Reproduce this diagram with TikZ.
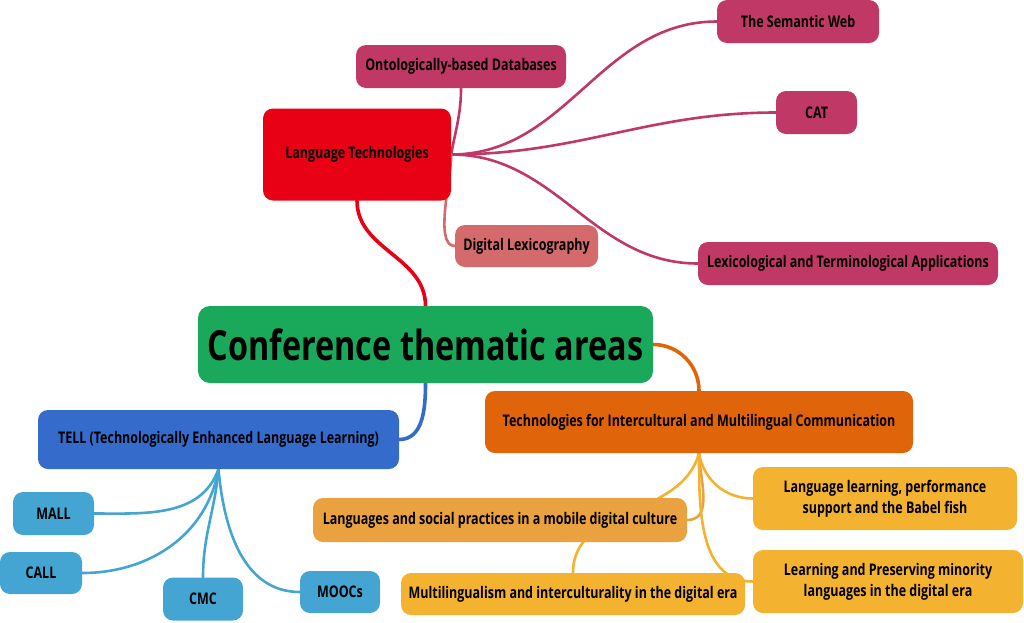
\documentclass[tikz,border=0pt]{standalone}
\usepackage{fontspec}
\setmainfont{Open Sans}[FakeStretch=0.78]
\usetikzlibrary{backgrounds}
\definecolor{trunk}{RGB}{26,168,90}
\definecolor{ltred}{RGB}{232,0,20}
\definecolor{ltleaf}{RGB}{192,56,102}
\definecolor{lexleaf}{RGB}{212,106,108}
\definecolor{tellblue}{RGB}{53,108,204}
\definecolor{tellleaf}{RGB}{69,165,210}
\definecolor{techorange}{RGB}{224,100,10}
\definecolor{langleaf}{RGB}{234,162,64}
\definecolor{techleaf}{RGB}{243,178,48}

\begin{document}
\begin{tikzpicture}[x=1pt,y=-1pt,
    topic/.style={rounded corners=10pt,inner sep=0pt,align=center,
      font=\fontsize{16}{21}\selectfont\bfseries},
    link/.style={line width=3.6pt,line cap=round},
    twig/.style={line width=2.6pt,line cap=round}]
  \useasboundingbox (0,0) rectangle (1024,622);
  % centre and main branches
  \node[topic,fill=trunk,minimum width=455pt,minimum height=77pt,rounded corners=12pt,
    font=\fontsize{41.5}{50}\selectfont\bfseries] (conf) at (425.5,344.5) {Conference thematic areas};
  \node[topic,fill=ltred,minimum width=188pt,minimum height=92pt] (lt) at (357,154.5) {Language Technologies};
  \node[topic,fill=tellblue,minimum width=361pt,minimum height=59pt] (tell) at (218.5,439.5)
    {TELL (Technologically Enhanced Language Learning)};
  \node[topic,fill=techorange,minimum width=428pt,minimum height=62pt] (tech) at (699,422)
    {Technologies for Intercultural and Multilingual Communication};
  % language technologies
  \node[topic,fill=ltleaf,minimum width=210pt,minimum height=43pt] (onto) at (461,66.5) {Ontologically-based Databases};
  \node[topic,fill=ltleaf,minimum width=162pt,minimum height=43pt] (semweb) at (798,21.5) {The Semantic Web};
  \node[topic,fill=ltleaf,minimum width=81pt,minimum height=43pt] (cat) at (816.5,112.5) {CAT};
  \node[topic,fill=ltleaf,minimum width=300pt,minimum height=43pt] (lexapp) at (848,263.5)
    {Lexicological and Terminological Applications};
  \node[topic,fill=lexleaf,minimum width=143pt,minimum height=42pt] (dlex) at (526.5,246) {Digital Lexicography};
  % TELL
  \node[topic,fill=tellleaf,minimum width=81pt,minimum height=43pt] (mall) at (53.5,513.5) {MALL};
  \node[topic,fill=tellleaf,minimum width=82pt,minimum height=42pt] (call) at (41,573) {CALL};
  \node[topic,fill=tellleaf,minimum width=80pt,minimum height=43pt] (cmc) at (203,599) {CMC};
  \node[topic,fill=tellleaf,minimum width=80pt,minimum height=42pt] (moocs) at (340,592) {MOOCs};
  % intercultural communication
  \node[topic,fill=langleaf,minimum width=374pt,minimum height=44pt] (lang) at (500,520)
    {Languages and social practices in a mobile digital culture};
  \node[topic,fill=techleaf,minimum width=344pt,minimum height=42pt] (multi) at (573,594)
    {Multilingualism and interculturality in the digital era};
  \node[topic,fill=techleaf,minimum width=264pt,minimum height=63pt] (learn) at (885,498.5)
    {Language learning, performance\\support and the Babel fish};
  \node[topic,fill=techleaf,minimum width=270pt,minimum height=63pt] (pres) at (888,581.5)
    {Learning and Preserving minority\\languages in the digital era};

  \begin{pgfonlayer}{background}
    \draw[link,ltred] (conf.north) to[out=90,in=-90] (lt.south);
    \draw[link,tellblue] (conf.south) to[out=-90,in=0] (tell.east);
    \draw[link,techorange] (conf.east) to[out=0,in=90] (tech.north);
    % leaves of language technologies
    \draw[twig,ltleaf] (lt.east) to[out=80,in=-90] (onto.south);
    \draw[twig,ltleaf] (lt.east) to[out=0,in=180] (semweb.west);
    \draw[twig,ltleaf] (lt.east) to[out=0,in=180] (cat.west);
    \draw[twig,ltleaf] (lt.east) to[out=0,in=180] (lexapp.west);
    \draw[twig,lexleaf] (lt.east) to[out=-88,in=180,looseness=0.6] (dlex.west);
    % leaves of TELL
    \draw[twig,tellleaf] (tell.south) to[out=-110,in=0] (mall.east);
    \draw[twig,tellleaf] (tell.south) to[out=-100,in=0] (call.east);
    \draw[twig,tellleaf] (tell.south) to[out=-95,in=90] (cmc.north);
    \draw[twig,tellleaf] (tell.south) to[out=-85,in=180] (moocs.west);
    % leaves of intercultural communication
    \draw[twig,langleaf] (tech.south) to[out=-88,in=0] (lang.east);
    \draw[twig,techleaf] (tech.south) to[out=-105,in=90] (multi.north);
    \draw[twig,techleaf] (tech.south) to[out=-80,in=180] (learn.west);
    \draw[twig,techleaf] (tech.south) to[out=-90,in=180] (pres.west);
  \end{pgfonlayer}
\end{tikzpicture}
\end{document}
